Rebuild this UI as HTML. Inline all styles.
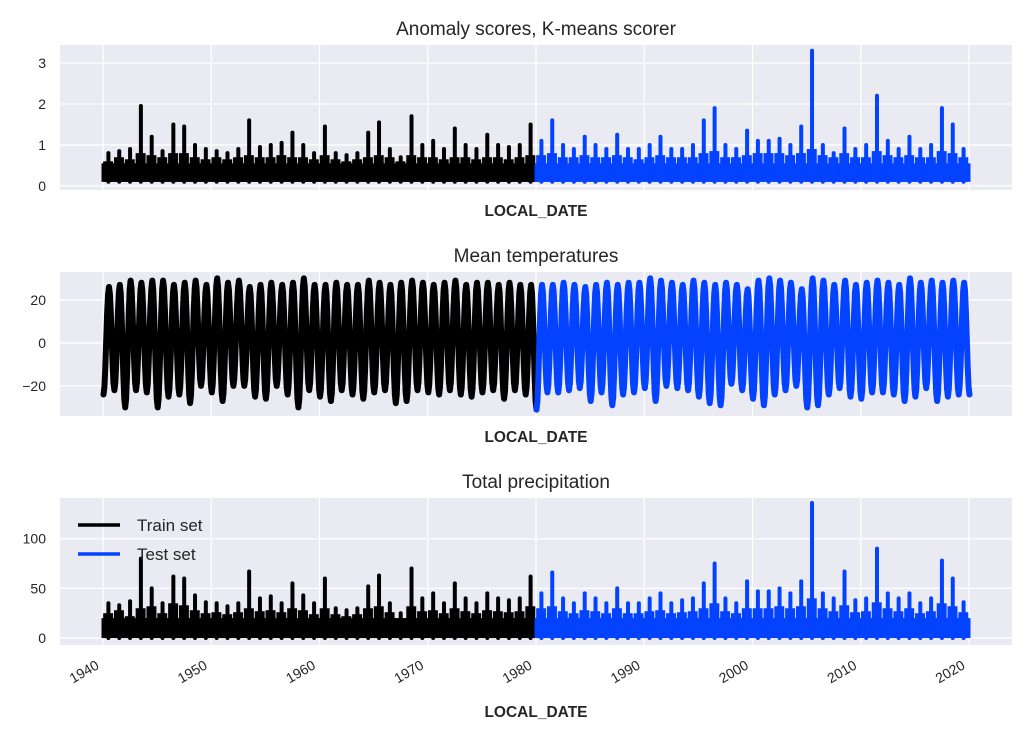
<!DOCTYPE html>
<html><head><meta charset="utf-8"><style>
body{margin:0;background:#fff;width:1034px;height:734px;overflow:hidden}
svg text{font-family:"Liberation Sans","DejaVu Sans",sans-serif;fill:#262626}
</style></head><body>
<svg id="fig" width="1034" height="734" xmlns="http://www.w3.org/2000/svg"></svg>
<script>
const splitYear = 1980;
const years = [];
for (let y = 1940; y < 2020; y++) years.push(y);
const anomalyPeaks = [0.8,0.85,0.9,1.95,1.2,0.85,1.5,1.45,1.0,0.9,0.85,0.8,0.9,1.6,0.95,1.0,1.05,1.3,1.0,0.8,1.45,0.8,0.75,0.8,1.3,1.55,0.9,0.7,1.7,1.0,1.1,0.9,1.4,1.0,0.9,1.25,1.0,0.95,1.0,1.5,
1.1,1.6,1.0,0.9,1.2,1.0,0.9,1.25,0.9,0.9,1.0,1.2,0.9,0.9,1.0,1.6,1.9,1.0,0.9,1.35,1.1,1.1,1.15,1.0,1.45,3.3,1.0,0.8,1.4,0.9,1.0,2.2,1.1,0.9,1.2,0.9,1.0,1.9,1.5,0.9];
const anomalyMid = [0.6,0.7,0.65,0.8,0.75,0.7,0.8,0.8,0.7,0.65,0.7,0.65,0.7,0.75,0.7,0.7,0.75,0.7,0.7,0.65,0.75,0.65,0.6,0.65,0.7,0.75,0.7,0.6,0.75,0.7,0.7,0.65,0.7,0.7,0.65,0.7,0.7,0.65,0.7,0.75,
0.75,0.8,0.7,0.7,0.75,0.7,0.7,0.75,0.7,0.65,0.7,0.75,0.7,0.7,0.7,0.8,0.85,0.7,0.7,0.75,0.8,0.8,0.8,0.75,0.8,0.9,0.75,0.7,0.8,0.7,0.7,0.85,0.75,0.7,0.75,0.7,0.7,0.85,0.8,0.7];
const tempMax = [26,27,29,28,29,29,27,28,29,27,30,28,29,26,27,28,27,28,30,27,27,28,27,27,29,28,27,28,29,28,27,28,29,27,28,28,27,28,27,27,
27,27,28,27,26,27,28,27,28,28,30,29,28,27,29,28,27,28,27,25,29,30,29,28,25,30,29,27,29,27,28,29,28,27,30,28,29,28,29,28];
const tempMin = [-24,-22,-30,-22,-23,-30,-25,-24,-28,-20,-23,-27,-20,-20,-25,-26,-20,-24,-30,-22,-25,-27,-22,-24,-26,-23,-22,-28,-27,-22,-23,-24,-22,-24,-25,-23,-22,-26,-22,-24,
-31,-23,-23,-22,-21,-27,-23,-29,-24,-23,-21,-27,-20,-21,-22,-25,-28,-29,-19,-22,-26,-29,-24,-22,-20,-30,-29,-24,-21,-25,-26,-23,-23,-24,-27,-25,-21,-27,-25,-24];
const precipPeaks = [35,33,37,80,50,35,62,60,43,36,35,32,35,67,40,42,35,55,43,35,60,30,28,30,52,63,35,25,70,40,45,35,55,40,35,45,40,38,40,62,
45,66,40,35,45,40,35,50,35,35,40,45,35,38,40,55,75,40,35,57,47,47,50,45,57,136,45,40,67,38,40,90,45,40,45,35,40,78,60,36];
const precipMid = [25,28,22,30,32,25,35,33,28,25,26,24,26,30,27,28,26,30,28,24,30,24,22,24,30,32,26,20,32,27,28,25,30,27,25,28,27,26,27,32,
30,32,27,25,28,27,25,30,25,25,27,28,25,26,27,30,35,27,25,30,30,30,32,30,32,40,30,27,33,26,27,36,30,27,30,25,27,35,32,26];
const yTicks1 = [0,1,2,3], yTicks2 = [-20,0,20], yTicks3 = [0,50,100];
const xTicks = [1940,1950,1960,1970,1980,1990,2000,2010,2020];

const NS = "http://www.w3.org/2000/svg";
const svg = document.getElementById('fig');
function mk(tag, attrs, parent){const e=document.createElementNS(NS,tag);for(const k in attrs)e.setAttribute(k,attrs[k]);(parent||svg).appendChild(e);return e;}
const L=60,R=1012;
const xS = yr => 103 + (yr-1940)*10.825;
const BLK="#000000", BLU="#0343ff";

function panel(name, top, bot, ymin, ymax, ticks, title){
  const g = mk('g',{});
  
  
  const yS = v => bot - (v-ymin)/(ymax-ymin)*(bot-top);
  const bg = mk('rect',{x:L,y:top,width:R-L,height:bot-top,fill:'#eaeaf2'},g);
  
  
  xTicks.forEach(t=>{const l=mk('line',{x1:xS(t),x2:xS(t),y1:top,y2:bot,stroke:'#fff','stroke-width':1.3},g);
    
    });
  ticks.forEach(t=>{const l=mk('line',{x1:L,x2:R,y1:yS(t),y2:yS(t),stroke:'#fff','stroke-width':1.3},g);
    
    
    const tx=mk('text',{x:L-14,y:yS(t)+5,'text-anchor':'end','font-size':14},g);tx.textContent=(t<0?'\u2212'+(-t):t);
    
    });
  const ti=mk('text',{x:(L+R)/2,y:top-10,'text-anchor':'middle','font-size':19},g);ti.textContent=title;
  
  
  const xl=mk('text',{x:(L+R)/2,y:bot+ (name==='precip-panel'?72:26),'text-anchor':'middle','font-size':15.5,'font-weight':'bold'},g);xl.textContent='LOCAL_DATE';
  
  
  return {g,yS};
}

function spikes(p, peaks, mids, base, band, name){
  years.forEach((yr,i)=>{
    const c = yr<splitYear?BLK:BLU;
    const x0=xS(yr), x1=xS(yr+1);
    const r=mk('rect',{x:x0-1.5,y:p.yS(band),width:x1-x0+3,height:p.yS(base)-p.yS(band),fill:c},p.g);
    
    
    [0.2,0.75].forEach(f=>{
      const xm=xS(yr+f);
      const m=mk('line',{x1:xm,x2:xm,y1:p.yS(base),y2:p.yS(mids[i]),stroke:c,'stroke-width':4},p.g);
      
      
    });
    const xp=xS(yr+0.5);
    const s=mk('line',{x1:xp,x2:xp,y1:p.yS(base),y2:p.yS(peaks[i]),stroke:c,'stroke-width':4,'stroke-linecap':'round'},p.g);
    
    
  });
}

const p1=panel('anomaly-panel',45,190,-0.1,3.44,yTicks1,'Anomaly scores, K-means scorer');
spikes(p1, anomalyPeaks, anomalyMid, 0.1, 0.55, 'anomaly');
const p2=panel('temperature-panel',272,416,-34,33,yTicks2,'Mean temperatures');
['train','test'].forEach(set=>{
  let d='';
  years.forEach((yr,i)=>{
    if((set==='train')!==(yr<splitYear)) return;
    const mn=tempMin[i], mx=tempMax[i];
    const nextMin = i+1<years.length ? tempMin[i+1] : mn;
    for(let k=0;k<=12;k++){
      const f=k/12;
      const amp = f<0.5 ? [mn,mx] : [nextMin,mx];
      const v = (amp[0]+amp[1])/2 - (amp[1]-amp[0])/2*Math.cos(2*Math.PI*f);
      d += (d===''?'M':'L') + xS(yr+0.05+f).toFixed(1)+','+p2.yS(v).toFixed(1)+' ';
    }
  });
  const pl=mk('path',{d:d,fill:'none',stroke:set==='train'?BLK:BLU,'stroke-width':6,'stroke-linejoin':'round','stroke-linecap':'round'},p2.g);
  
  
});
const p3=panel('precip-panel',498,645,-7,141,yTicks3,'Total precipitation');
spikes(p3, precipPeaks, precipMid, 0, 20, 'precip');
xTicks.forEach(t=>{const x=xS(t)-3, y=668;
  const tx=mk('text',{x:x,y:y,'text-anchor':'end','font-size':14,transform:`rotate(-30 ${x} ${y})`});
  tx.textContent=t;
  
  });
const lg=mk('g',{});


[['Train set',BLK,525],['Test set',BLU,554]].forEach(([lab,c,y])=>{
  const ln=mk('line',{x1:78,x2:120,y1:y,y2:y,stroke:c,'stroke-width':3.5},lg);
  
  
  const t=mk('text',{x:137,y:y+6,'font-size':17},lg);t.textContent=lab;
  
  
});
</script>
</body></html>
